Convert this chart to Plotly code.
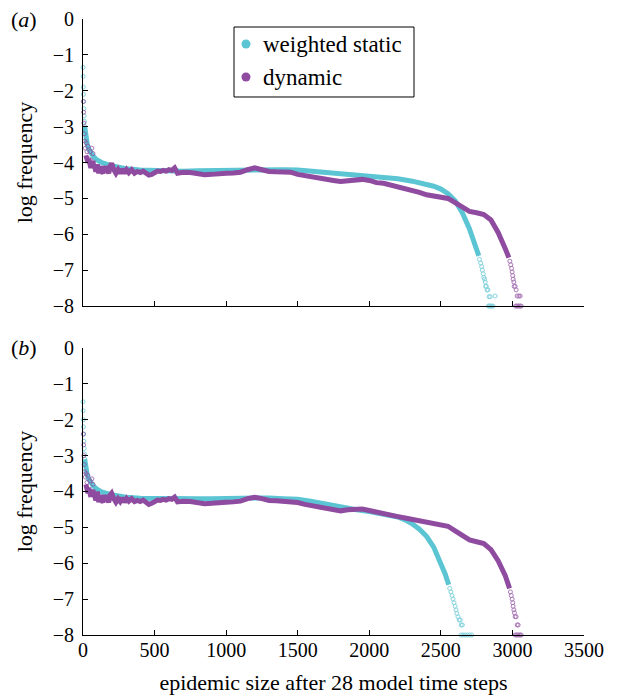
import plotly.graph_objects as go

# epidemic size (x) and log frequency (y)
# ---- panel (a) ----
a_static_head_x = [0, 1, 2, 3, 5, 6, 8, 10, 12]
a_static_head_y = [-1.35, -1.6, -1.9, -2.1, -2.3, -2.5, -2.7, -2.85, -3.0]
a_static_x = [12, 15, 20, 30, 40, 50, 70, 95, 130, 190, 250, 300, 400, 500, 600, 700,
              800, 900, 1000, 1100, 1200, 1300, 1400, 1500, 1600, 1700, 1800, 1900, 2000, 2100,
              2200, 2300, 2400, 2450, 2500, 2550, 2600, 2650, 2700, 2740, 2765]
a_static_y = [-3.0, -3.1, -3.3, -3.5, -3.62, -3.7, -3.82, -3.92, -4.0, -4.08,
              -4.13, -4.17, -4.21, -4.23, -4.24, -4.24, -4.23, -4.22, -4.21, -4.2, -4.19, -4.19,
              -4.2, -4.21, -4.24, -4.27, -4.3, -4.34, -4.38, -4.41, -4.45, -4.52, -4.6, -4.66,
              -4.74, -4.87, -5.07, -5.4, -5.85, -6.3, -6.6]
a_static_tail_x = [2770, 2778, 2785, 2790, 2796, 2800, 2805, 2810, 2812, 2818, 2823, 2829, 2837,
                   2844, 2879, 2832, 2840, 2848, 2856, 2864]
a_static_tail_y = [-6.7, -6.8, -6.9, -7.0, -7.1, -7.2, -7.25, -7.33, -7.45, -7.45, -7.55,
                   -7.55, -7.74, -7.74, -7.72, -8, -8, -8, -8, -8]

a_dynamic_head_x = [2, 4, 6, 8, 12, 16, 22, 28, 34, 40, 48, 56, 62, 70]
a_dynamic_head_y = [-2.3, -2.6, -2.9, -3.2, -3.4, -3.6, -3.45, -3.7, -3.55, -3.9, -3.7, -3.95,
                    -3.6, -3.75]
a_dynamic_x = [20, 25, 30, 35, 40, 45, 50, 55, 60, 65, 70, 75, 80, 90, 100, 110,
               120, 130, 140, 150, 160, 170, 180, 190, 200, 215, 230, 245, 260, 275, 290, 305,
               320, 340, 360, 380, 400, 420, 440, 460, 480, 500, 520, 540, 560, 580, 600, 620,
               640, 660, 680, 700, 750, 800, 850, 900, 950, 1000, 1050, 1100, 1150, 1200, 1250,
               1300, 1350, 1400, 1450, 1500, 1550, 1600, 1650, 1700, 1750, 1800, 1850, 1900,
               1950, 2000, 2050, 2100, 2150, 2200, 2250, 2300, 2350, 2400, 2450, 2500, 2550,
               2600, 2650, 2700, 2750, 2800, 2850, 2900, 2950, 2975]
a_dynamic_y = [-3.8, -3.95, -3.85, -4.0, -3.9, -4.05, -3.95, -4.15, -3.95, -4.1, -3.95, -4.15,
               -4.1, -4.25, -4.05, -4.3, -4.1, -4.25, -4.3, -4.1, -4.25, -4.2,
               -4.3, -4.1, -4.02, -4.2, -4.3, -4.2, -4.3, -4.18, -4.3, -4.2, -4.28, -4.2, -4.3,
               -4.25, -4.28, -4.24, -4.3, -4.35, -4.33, -4.27, -4.24, -4.25, -4.22, -4.24, -4.2,
               -4.22, -4.15, -4.3, -4.28, -4.27, -4.28, -4.32, -4.34, -4.33, -4.3, -4.3, -4.29,
               -4.27, -4.2, -4.15, -4.2, -4.25, -4.26, -4.26, -4.27, -4.33, -4.37, -4.4, -4.43,
               -4.46, -4.5, -4.53, -4.5, -4.48, -4.47, -4.5, -4.56, -4.58, -4.63, -4.69, -4.72,
               -4.76, -4.83, -4.9, -4.94, -4.96, -5.0, -5.12, -5.25, -5.36, -5.4, -5.45, -5.6,
               -5.95, -6.4, -6.65]
a_dynamic_tail_x = [2982, 2988, 2994, 2998, 3002, 3005, 3010, 3012, 3019, 3026, 3033, 3045,
                    3054, 3022, 3030, 3038, 3046, 3054, 3061]
a_dynamic_tail_y = [-6.75, -6.85, -6.95, -7.05, -7.15, -7.25, -7.33, -7.45, -7.45, -7.55,
                    -7.72, -7.72, -7.72, -8, -8, -8, -8, -8, -8]

# ---- panel (b) ----
b_static_head_x = [0, 1, 2, 3, 5, 6, 8, 10, 12]
b_static_head_y = [-1.5, -1.75, -2.0, -2.2, -2.4, -2.6, -2.8, -2.95, -3.1]
b_static_x = [12, 15, 20, 30, 40, 50, 70, 95, 130, 190, 250, 300, 400, 500, 600, 700,
              800, 900, 1000, 1100, 1200, 1300, 1400, 1500, 1600, 1700, 1800, 1900, 2000, 2100,
              2200, 2250, 2300, 2350, 2400, 2450, 2500, 2530, 2555]
b_static_y = [-3.1, -3.2, -3.35, -3.55, -3.65, -3.72, -3.84, -3.93, -4.01,
              -4.08, -4.13, -4.16, -4.19, -4.2, -4.21, -4.21, -4.2, -4.2, -4.19, -4.19, -4.18,
              -4.18, -4.2, -4.22, -4.28, -4.36, -4.44, -4.5, -4.56, -4.63, -4.71, -4.79, -4.9,
              -5.05, -5.25, -5.55, -5.98, -6.3, -6.6]
b_static_tail_x = [2562, 2570, 2578, 2585, 2592, 2600, 2606, 2612, 2620, 2628, 2635, 2642,
                   2650, 2640, 2655, 2670, 2685, 2700, 2715]
b_static_tail_y = [-6.7, -6.8, -6.9, -7.0, -7.1, -7.2, -7.3, -7.4, -7.49, -7.58, -7.58,
                   -7.72, -7.72, -8, -8, -8, -8, -8, -8]

b_dynamic_head_x = [2, 4, 6, 8, 12, 16, 22, 28, 34, 40, 48, 56, 62, 70]
b_dynamic_head_y = [-2.4, -2.7, -3.0, -3.25, -3.45, -3.6, -3.5, -3.75, -3.55, -3.95, -3.7,
                    -4.0, -3.65, -3.8]
b_dynamic_x = [20, 25, 30, 35, 40, 45, 50, 55, 60, 65, 70, 75, 80, 90, 100, 110,
               120, 130, 140, 150, 160, 170, 180, 190, 200, 215, 230, 245, 260, 275, 290, 305,
               320, 340, 360, 380, 400, 420, 440, 460, 480, 500, 520, 540, 560, 580, 600, 620,
               640, 660, 680, 700, 750, 800, 850, 900, 950, 1000, 1050, 1100, 1150, 1200, 1250,
               1300, 1350, 1400, 1450, 1500, 1550, 1600, 1650, 1700, 1750, 1800, 1850, 1900,
               1950, 2000, 2050, 2100, 2150, 2200, 2250, 2300, 2350, 2400, 2450, 2500, 2550,
               2600, 2650, 2700, 2750, 2800, 2850, 2900, 2950, 2980]
b_dynamic_y = [-3.8, -3.95, -3.85, -4.05, -3.9, -4.1, -3.95, -4.15, -3.95, -4.1, -3.95, -4.15,
               -4.1, -4.25, -4.0, -4.3, -4.1, -4.25, -4.3, -4.1,
               -4.25, -4.2, -4.3, -4.1, -4.05, -4.2, -4.3, -4.2, -4.28, -4.18, -4.3, -4.2,
               -4.27, -4.2, -4.28, -4.25, -4.28, -4.24, -4.3, -4.36, -4.33, -4.27, -4.24,
               -4.25, -4.22, -4.24, -4.2, -4.22, -4.16, -4.29, -4.27, -4.27, -4.28, -4.32,
               -4.34, -4.33, -4.3, -4.3, -4.29, -4.27, -4.2, -4.16, -4.2, -4.25, -4.26, -4.27,
               -4.28, -4.31, -4.36, -4.4, -4.43, -4.46, -4.5, -4.54, -4.51, -4.49, -4.49, -4.53,
               -4.58, -4.61, -4.65, -4.7, -4.74, -4.78, -4.81, -4.86, -4.9, -4.93, -4.97, -5.1,
               -5.24, -5.35, -5.4, -5.45, -5.62, -5.93, -6.35, -6.7]
b_dynamic_tail_x = [2986, 2992, 2998, 3002, 3005, 3010, 3014, 3019, 3026, 3033, 3040, 3019,
                    3028, 3037, 3046, 3054, 3061]
b_dynamic_tail_y = [-6.8, -6.9, -7.0, -7.1, -7.2, -7.3, -7.38, -7.49, -7.49, -7.72, -7.72,
                    -8, -8, -8, -8, -8, -8]

x_ticks = [0, 500, 1000, 1500, 2000, 2500, 3000, 3500]
y_ticks = [0, -1, -2, -3, -4, -5, -6, -7, -8]
legend_names = ["weighted static", "dynamic"]

CYAN = "#5cc5d3"
PURPLE = "#8f4b9f"
FONT = "Liberation Serif, Times New Roman, serif"

fig = go.Figure()


def add_series(xa, ya, hx, hy, x, y, tx, ty, col):
    # scattered points near the start, the dense band, then the sparse tail
    for px, py in [(hx, hy), (tx, ty)]:
        fig.add_trace(go.Scatter(x=px, y=py, mode="markers", xaxis=xa, yaxis=ya,
                                 marker=dict(color=col, size=4, symbol="circle-open",
                                             line=dict(width=1, color=col)),
                                 opacity=0.75, showlegend=False, cliponaxis=False))
    fig.add_trace(go.Scatter(x=x, y=y, mode="lines", xaxis=xa, yaxis=ya,
                             line=dict(color=col, width=5), showlegend=False))


add_series("x", "y", a_static_head_x, a_static_head_y, a_static_x, a_static_y,
           a_static_tail_x, a_static_tail_y, CYAN)
add_series("x", "y", a_dynamic_head_x, a_dynamic_head_y, a_dynamic_x, a_dynamic_y,
           a_dynamic_tail_x, a_dynamic_tail_y, PURPLE)
add_series("x2", "y2", b_static_head_x, b_static_head_y, b_static_x, b_static_y,
           b_static_tail_x, b_static_tail_y, CYAN)
add_series("x2", "y2", b_dynamic_head_x, b_dynamic_head_y, b_dynamic_x, b_dynamic_y,
           b_dynamic_tail_x, b_dynamic_tail_y, PURPLE)

xax = dict(range=[0, 3500], tickvals=x_ticks, ticks="inside", ticklen=5, tickcolor="black",
           showline=True, linecolor="black", linewidth=1, showgrid=False, zeroline=False,
           tickfont=dict(family=FONT, size=20, color="black"), automargin=False,
           ticklabelstandoff=-3)
yax = dict(range=[-8, 0], tickvals=y_ticks, ticks="inside", ticklen=5, tickcolor="black",
           showline=True, linecolor="black", linewidth=1, showgrid=False, zeroline=False,
           tickfont=dict(family=FONT, size=20, color="black"), automargin=False,
           ticklabelstandoff=4,
           title=dict(text="log frequency", font=dict(family=FONT, size=22, color="black"),
                      standoff=14))

# hand-drawn legend box in the top panel (paper coordinates)
shapes = [dict(type="rect", xref="paper", yref="paper", x0=0.3014, x1=0.6607,
               y0=0.8734, y1=0.987, line=dict(color="black", width=1), fillcolor="white",
               layer="above")]
annotations = []
for name, col, yrow in zip(legend_names, [CYAN, PURPLE], [0.9594, 0.9058]):
    shapes.append(dict(type="circle", xref="paper", yref="paper", xsizemode="pixel",
                       ysizemode="pixel", xanchor=0.3253, yanchor=yrow,
                       x0=-4.5, x1=4.5, y0=-4.5, y1=4.5, line=dict(width=0),
                       fillcolor=col, layer="above"))
    annotations.append(dict(text=name, xref="paper", yref="paper", x=0.355, y=yrow,
                            xanchor="left", yanchor="middle", showarrow=False,
                            font=dict(family=FONT, size=23, color="black")))

for lab, ytop in [("(<i>a</i>)", 1.0), ("(<i>b</i>)", 0.466)]:
    annotations.append(dict(text=lab, xref="paper", yref="paper", x=-0.147, y=ytop,
                            xanchor="left", yanchor="middle", showarrow=False,
                            xshift=0, yshift=0,
                            font=dict(family=FONT, size=22, color="black")))

# the page adds an 8px body margin, so the figure is sized to fit the window
fig.update_layout(
    width=610, height=691,
    paper_bgcolor="white", plot_bgcolor="white",
    margin=dict(l=75, r=34, t=11, b=64),
    showlegend=False,
    xaxis=dict(xax, domain=[0, 1], anchor="y", showticklabels=False),
    yaxis=dict(yax, domain=[0.534, 1], anchor="x"),
    xaxis2=dict(xax, domain=[0, 1], anchor="y2",
                title=dict(text="epidemic size after 28 model time steps",
                           font=dict(family=FONT, size=22, color="black"), standoff=14)),
    yaxis2=dict(yax, domain=[0, 0.466], anchor="x2"),
    shapes=shapes,
    annotations=annotations,
)

fig.write_html("out.html")
